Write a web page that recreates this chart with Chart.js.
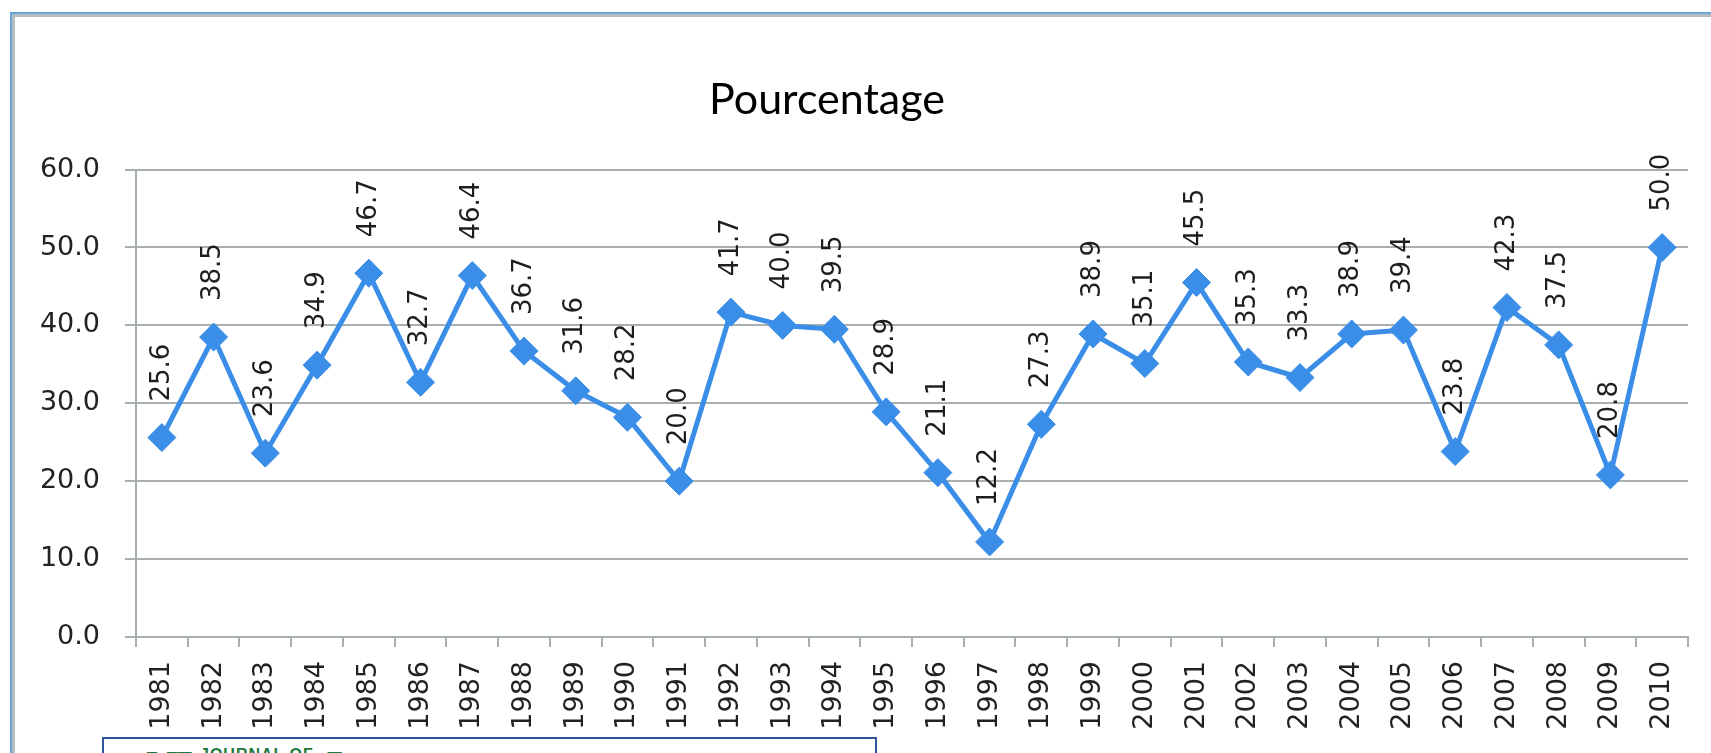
<!DOCTYPE html>
<html>
<head>
<meta charset="utf-8">
<script src="https://cdn.jsdelivr.net/npm/chart.js@4.4.1/dist/chart.umd.min.js"></script>
<style>
  html, body { margin: 0; padding: 0; background: #fff; overflow: hidden; width: 1711px; height: 753px; }
  #frame { position: absolute; left: 10px; top: 12px; width: 1760px; height: 800px;
           border-left: 2px solid #6aa5dc; border-top: 2px solid #6aa5dc; }
  #frame .inner { position: absolute; left: 0; top: 0; right: 0; bottom: 0;
           border-left: 3px solid #b6bdbd; border-top: 3px solid #b6bdbd; }
  #chart { position: absolute; left: -34px; top: 0; }
  #logo { position: absolute; left: 102px; top: 737px; width: 771px; height: 40px;
          border: 2px solid #2e5597; background: #fff; overflow: hidden; }
  #logo span { position: absolute; color: #1d7a3c; font-family: "Liberation Sans", sans-serif; font-weight: bold; line-height: 1; }
  #logo .big { font-size: 44px; font-family: "Liberation Serif", serif; top: 6px; }
</style>
</head>
<body>
<div id="frame"><div class="inner"></div></div>
<canvas id="chart" width="1745" height="753"></canvas>
<div id="logo">
  <span class="big" style="left:42px;">N</span>
  <span class="big" style="left:72px;">I</span>
  <span style="left:96px; top:8px; font-size:16px; letter-spacing:1px;">JOURNAL OF</span>
  <span class="big" style="left:222px;">I</span>
</div>
<script>
// données
let years = ['1981','1982','1983','1984','1985','1986','1987','1988','1989','1990',
             '1991','1992','1993','1994','1995','1996','1997','1998','1999','2000',
             '2001','2002','2003','2004','2005','2006','2007','2008','2009','2010'];
let pourcentage = [25.6, 38.5, 23.6, 34.9, 46.7, 32.7, 46.4, 36.7, 31.6, 28.2,
                   20.0, 41.7, 40.0, 39.5, 28.9, 21.1, 12.2, 27.3, 38.9, 35.1,
                   45.5, 35.3, 33.3, 38.9, 39.4, 23.8, 42.3, 37.5, 20.8, 50.0];
let yTicks = [0, 10, 20, 30, 40, 50, 60];

let gridColor = '#a7afaf';
let tickFont = { family: 'DejaVu Sans', size: 27 };

// valeurs écrites verticalement au-dessus des points
const valueLabels = {
    id: 'valueLabels',
    afterDatasetsDraw(chart) {
        const ctx = chart.ctx;
        const meta = chart.getDatasetMeta(0);
        ctx.save();
        ctx.font = '26px "DejaVu Sans"';
        ctx.fillStyle = '#1e1e1e';
        ctx.textAlign = 'left';
        ctx.textBaseline = 'middle';
        meta.data.forEach((pt, i) => {
            ctx.save();
            ctx.translate(pt.x, pt.y - 36);
            ctx.rotate(-Math.PI / 2);
            ctx.fillText(pourcentage[i].toFixed(1), 0, 0);
            ctx.restore();
        });
        ctx.restore();
    }
};

var ctx = document.getElementById('chart').getContext('2d');
var chart = new Chart(ctx, {
    type: 'line',
    data: {
        labels: years,
        datasets: [{
            label: 'Pourcentage',
            data: pourcentage,
            borderColor: '#3a8ee8',
            backgroundColor: '#3a8ee8',
            borderWidth: 5,
            pointStyle: 'rectRot',
            pointRadius: 14,
            pointBorderWidth: 1,
            tension: 0
        }]
    },
    options: {
        responsive: false,
        animation: false,
        layout: { padding: { left: 0, right: 23, top: 0, bottom: 0 } },
        plugins: {
            legend: { display: false },
            tooltip: { enabled: false },
            title: {
                display: true,
                text: 'Pourcentage',
                color: '#000',
                font: { family: 'Lato', size: 43, weight: 'normal' },
                padding: { top: 74, bottom: 44 }
            }
        },
        scales: {
            x: {
                offset: true,
                grid: { offset: true, drawOnChartArea: false, drawTicks: true, tickLength: 10, color: gridColor, lineWidth: 2 },
                border: { color: gridColor, width: 2 },
                ticks: { minRotation: 90, maxRotation: 90, autoSkip: false, padding: 14, font: tickFont, color: '#222' },
                afterFit(scale) { scale.height = 116; }
            },
            y: {
                min: yTicks[0],
                max: yTicks[yTicks.length - 1],
                afterBuildTicks(scale) { scale.ticks = yTicks.map(v => ({ value: v })); },
                ticks: { callback: v => v.toFixed(1), padding: 25, font: tickFont, color: '#222' },
                grid: { color: gridColor, lineWidth: 2, tickLength: 11 },
                border: { color: gridColor, width: 2 },
                afterFit(scale) { scale.width = 170; }
            }
        }
    },
    plugins: [valueLabels]
});
</script>
</body>
</html>
